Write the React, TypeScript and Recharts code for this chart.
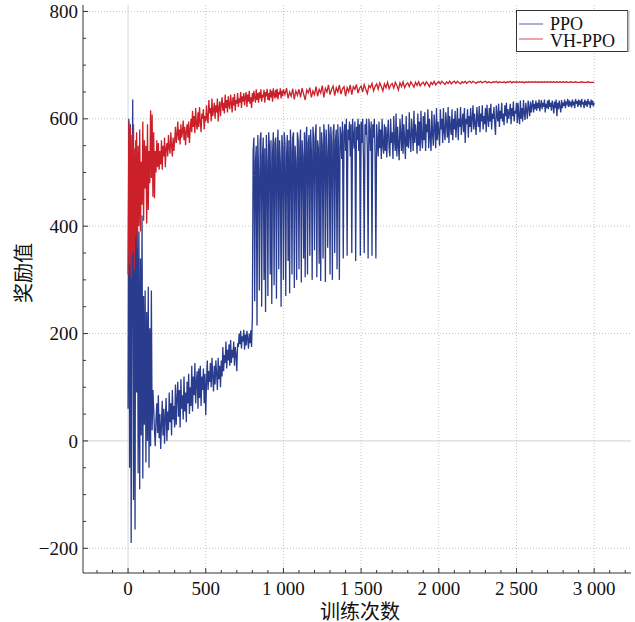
import { LineChart, Line, XAxis, YAxis, ReferenceLine } from 'recharts';

// episode values, grouped in segments (from, step, values)
const ppoStart = [60, 600, -50, 590, -190, 280, 636, -110, 420, -165, 560, 90, 430, -60, 390, -90, 340, 10, 420, -70, 270, 30, 280, -40, 240, 0, 287, -50, 210, -10, 280, 20];
const ppoClimb = [
  95, 60, 20, -10, 40, 70, 15, 85, 5, 50,
  -15, 30, 75, 10, 60, -5, 45, 80, 0, 55,
  20, 90, 35, 70, 10, 95, 40, 65, 25, 105,
  30, 80, 110, 45, 95, 25, 115, 60, 85, 40,
  120, 55, 90, 35, 110, 70, 125, 50, 100, 65,
  140, 55, 120, 85, 145, 70, 110, 130, 60, 135,
  80, 140, 65, 120, 95, 135, 70, 125, 48, 110,
  150, 95, 130, 110, 145, 100, 155, 120, 92, 140,
  105, 150, 125, 95, 155, 115, 140, 100, 150, 120,
  175, 130, 160, 145, 185, 135, 170, 150, 180, 140,
  188, 145, 170, 155, 185, 140, 175, 160, 130, 182,
  175, 200, 180, 205, 172, 195, 185, 207, 170, 198,
  178, 205, 190, 172, 200, 182, 206, 175,
];
const ppoBurst = [
  230, 540, 565, 260, 520, 550, 215, 570, 500, 280,
  560, 575, 250, 530, 565, 300, 545, 240, 570, 520,
  270, 575, 550, 310, 560, 255, 535, 575, 290, 555,
  565, 265, 540, 580, 320, 560, 520, 250, 570, 545,
  300, 575, 555, 270, 530, 570, 335, 560, 275, 580,
  540, 310, 565, 575, 285, 550, 520, 300, 575, 560,
  320, 545, 580, 295, 560, 530, 340, 575, 305, 565,
  585, 310, 555, 570, 345, 580, 540, 300, 585, 560,
  355, 570, 590, 305, 560, 545, 330, 585, 298, 575,
  550, 340, 590, 565, 296, 580, 535, 360, 590, 570,
  310, 585, 555, 300, 575, 590, 350, 560, 580, 320,
  590, 545, 300, 585, 570, 525, 595, 340, 575, 590,
  540, 600, 345, 580, 560, 595, 530, 590, 350, 600,
  570, 545, 595, 335, 585, 560, 600, 540, 590, 345,
  595, 555, 600, 530, 350, 590, 570, 600, 545, 340,
  600, 580, 540, 595, 345, 590, 565, 600, 530, 340,
  590,
];
const ppoLate = [
  560, 530, 595, 545, 580, 525, 600, 550, 535, 590,
  540, 585, 528, 570, 598, 545, 530, 600, 555, 575,
  525, 605, 560, 540, 610, 530, 585, 550, 523, 600,
  570, 540, 608, 535, 590, 560, 525, 605, 548, 580,
  545, 612, 565, 538, 600, 575, 540, 615, 555, 590,
  570, 535, 610, 550, 595, 540, 615, 565, 545, 605,
  560, 612, 540, 590, 575, 618, 545, 600, 565, 540,
  615, 570, 550, 608, 585, 545, 620, 560, 595, 575,
  550, 618, 580, 600, 555, 620, 575, 560, 612, 590,
  565, 622, 555, 605, 585, 570, 618, 560, 600, 580,
  615, 565, 590, 620, 560, 600, 585, 622, 570, 595,
  610, 575, 620, 555, 600, 590, 618, 565, 605, 585,
  620, 575, 600, 625, 580, 610, 590, 570, 622, 600,
  585, 624, 575, 610, 595, 625, 580, 605, 590, 620,
  575, 626, 600, 585, 620, 595, 628, 580, 610, 600,
  622, 590, 570, 625, 605, 595, 628, 585, 615, 600,
  630, 595, 610, 588, 625, 605, 630, 592, 618, 600,
  612, 628, 590, 620, 605, 632, 595, 615, 610, 630,
  592, 630, 605, 590, 634, 600, 620, 595, 635, 610,
  598, 630, 615, 600, 634, 620, 605, 632, 612, 625,
  635, 612, 628, 618, 634, 615, 630, 620, 636, 614,
  625, 635, 618, 630, 622, 636, 612, 628, 620, 634,
  618, 636, 622, 630, 615, 634, 625, 610, 632, 620,
  636, 605, 630, 618, 634, 622, 612, 635, 620, 630,
  624, 636, 620, 632, 628, 637, 622, 634, 626, 630,
  621, 636, 625, 632, 620, 637, 628, 633, 622, 636,
  626, 634, 621, 637, 627, 631, 620, 636, 625, 633,
  622, 637, 627, 632, 620, 636, 626, 634, 623, 630,
];

const vhStart = [310, 595, 330, 585, 305, 570, 350, 590, 320, 545, 380, 575, 360, 550, 400, 580, 390, 520, 440, 595, 410, 560, 470, 550, 405, 590, 430, 540, 480, 616, 490, 608, 455, 575, 452, 540, 500, 560, 510, 555, 505];
const vhRise = [
  540, 515, 560, 505, 550, 530, 565, 510, 545, 555,
  530, 570, 545, 535, 575, 550, 530, 565, 540, 560,
  585, 555, 570, 595, 560, 580, 552, 590, 565, 575,
  597, 560, 585, 551, 575, 590, 565, 595, 555, 580,
  600, 575, 615, 585, 605, 573, 620, 590, 580, 612,
  585, 622, 595, 575, 610, 600, 618, 580, 605, 595,
  625, 600, 592, 635, 610, 620, 595, 638, 605, 615,
  630, 600, 625, 612, 638, 595, 620, 632, 605, 628,
  640, 615, 630, 610, 645, 620, 635, 612, 642, 625,
  618, 645, 630, 612, 640, 625, 646, 615, 635, 628,
  648, 622, 638, 630, 650, 620, 642, 632, 648, 625,
  640, 650, 622, 645, 632, 652, 628, 640, 620, 648,
  632, 652, 640, 630, 655, 635, 648, 630, 650, 638,
  655, 632, 645, 640, 654, 630, 650, 642, 656, 635,
  648, 634, 655, 640, 652, 632, 657, 645, 638, 654,
  640, 656, 636, 650, 645, 657, 638, 652, 642, 655,
];
const vhLate = [
  645, 657, 638, 650, 642, 656, 636, 652, 644, 655,
  640, 657, 646, 635, 654, 648, 658, 640, 652, 645,
  660, 642, 655, 648, 662, 640, 657, 650, 663, 645,
  655, 661, 643, 658, 650, 663, 646, 656, 660, 642,
  658, 650, 663, 645, 660, 655, 664, 648, 657, 661,
  650, 664, 655, 647, 662, 658, 666, 652, 660, 665,
  655, 667, 660, 652, 665, 658, 668, 656, 663, 666,
  657, 668, 662, 654, 667, 660, 669, 658, 664, 667,
  660, 669, 664, 659, 668, 662, 669, 661, 666, 668,
  662, 669, 665, 660, 668, 664, 670, 663, 667, 669,
  665, 670, 667, 664, 669, 666, 670, 665, 668, 670,
  666, 670, 667, 665, 669, 667, 670, 666, 669, 670,
  667, 670, 668, 666, 669, 668, 670, 667, 669, 670,
  667, 669, 668, 667, 669, 668, 670, 667, 669, 668,
  668, 669, 667, 669, 668, 670, 667, 669, 668, 669,
  668, 669, 668, 669, 667, 669, 668, 669, 668, 669,
  668, 669, 668, 669, 668, 669, 668, 669, 668, 669,
  668, 669, 668, 669, 668, 669, 668, 669, 668, 669,
  668, 669, 668, 668, 669, 668, 668, 669, 668, 668,
  668, 669, 668, 668, 668, 669, 668, 668, 668, 668,
];

const xMajor = [0, 500, 1000, 1500, 2000, 2500, 3000];
const xMinor = [-200, -100, 100, 200, 300, 400, 600, 700, 800, 900, 1100, 1200, 1300, 1400, 1600, 1700, 1800, 1900, 2100, 2200, 2300, 2400, 2600, 2700, 2800, 2900, 3100, 3200];
const yMajor = [-200, 0, 200, 400, 600, 800];
const yMinor = [-150, -100, -50, 50, 100, 150, 250, 300, 350, 450, 500, 550, 650, 700, 750];

type Seg = { from: number; step: number; values: number[] };
const toPoints = (segs: Seg[]) =>
  segs.flatMap((s) => s.values.map((v, i) => ({ ep: s.from + i * s.step, v })));

const ppoData = toPoints([
  { from: 0, step: 5, values: ppoStart },
  { from: 160, step: 5, values: ppoClimb },
  { from: 800, step: 5, values: ppoBurst },
  { from: 1605, step: 5, values: ppoLate },
]);
const vhData = toPoints([
  { from: 0, step: 5, values: vhStart },
  { from: 205, step: 5, values: vhRise },
  { from: 1010, step: 10, values: vhLate },
]);

const SERIF = "'Liberation Serif', 'Times New Roman', 'Noto Sans CJK SC', serif";
const BLUE = '#2a3c8e';
const RED = '#cb2029';
const AXIS = '#333';

const fmt = (v: number) => {
  const s = String(Math.abs(v)).replace(/\B(?=(\d{3})+(?!\d))/g, ' ');
  return v < 0 ? '\u2212' + s : s;
};

const XTick = (props: any) => {
  const { x, y, payload } = props;
  const major = xMajor.includes(payload.value);
  return (
    <g>
      <line x1={x} x2={x} y1={y} y2={y - (major ? 5 : 3)} stroke={AXIS} />
      {major && (
        <text x={x} y={y + 9} dy="0.71em" textAnchor="middle" fontFamily={SERIF} fontSize={19} fill="#111">
          {fmt(payload.value)}
        </text>
      )}
    </g>
  );
};

const YTick = (props: any) => {
  const { x, y, payload } = props;
  const major = yMajor.includes(payload.value);
  return (
    <g>
      <line x1={x} x2={x + (major ? 5 : 3)} y1={y} y2={y} stroke={AXIS} />
      {major && (
        <text x={x - 5} y={y} dy="0.35em" textAnchor="end" fontFamily={SERIF} fontSize={19} fill="#111">
          {fmt(payload.value)}
        </text>
      )}
    </g>
  );
};

export default function App() {
  return (
    <div style={{ position: 'absolute', left: 0, top: 0, width: 635, height: 622, background: '#fff' }}>
      <LineChart width={635} height={622} margin={{ top: 5, right: 4, bottom: 0, left: 0 }}>
        <XAxis
          dataKey="ep"
          type="number"
          domain={[-290, 3237]}
          allowDataOverflow
          ticks={[...xMajor, ...xMinor].sort((a, b) => a - b)}
          interval={0}
          height={49}
          tickSize={0}
          tickMargin={0}
          tickLine={false}
          tick={<XTick />}
          axisLine={{ stroke: AXIS }}
        />
        <YAxis
          type="number"
          domain={[-246, 812]}
          allowDataOverflow
          ticks={[...yMajor, ...yMinor].sort((a, b) => a - b)}
          interval={0}
          width={83}
          tickSize={0}
          tickMargin={0}
          tickLine={false}
          tick={<YTick />}
          axisLine={{ stroke: AXIS }}
        />
        {xMajor.filter((v) => v !== 0).map((v) => (
          <ReferenceLine key={'gx' + v} x={v} stroke="#c4c4c4" strokeDasharray="1 2" />
        ))}
        {yMajor.filter((v) => v !== 0).map((v) => (
          <ReferenceLine key={'gy' + v} y={v} stroke="#c4c4c4" strokeDasharray="1 2" />
        ))}
        <ReferenceLine x={0} stroke="#d6d6d6" />
        <ReferenceLine y={0} stroke="#d0d0d0" />
        <Line data={ppoData} dataKey="v" type="linear" stroke={BLUE} strokeWidth={1.3} dot={false} isAnimationActive={false} />
        <Line data={vhData} dataKey="v" type="linear" stroke={RED} strokeWidth={1.3} dot={false} isAnimationActive={false} />
      </LineChart>
      <div
        style={{
          position: 'absolute', left: 360, top: 610, transform: 'translate(-50%, -50%)',
          fontFamily: SERIF, fontSize: 20, whiteSpace: 'nowrap', color: '#111',
        }}
      >
        训练次数
      </div>
      <div
        style={{
          position: 'absolute', left: 22, top: 273, transform: 'translate(-50%, -50%) rotate(-90deg)',
          fontFamily: SERIF, fontSize: 20, whiteSpace: 'nowrap', color: '#111',
        }}
      >
        奖励值
      </div>
      <svg style={{ position: 'absolute', left: 515, top: 9 }} width={116} height={46}>
        <rect x={1.5} y={1.5} width={111} height={41} fill="#fff" stroke={AXIS} />
        <line x1={113.5} x2={113.5} y1={2} y2={43} stroke="#bbb" strokeWidth={2} />
        <line x1={4} x2={28} y1={15} y2={15} stroke={BLUE} strokeWidth={1} opacity={0.8} />
        <line x1={4} x2={28} y1={30} y2={30} stroke={RED} strokeWidth={1} opacity={0.8} />
        <text x={35} y={21} fontFamily={SERIF} fontSize={18} fill="#111">PPO</text>
        <text x={35} y={37.5} fontFamily={SERIF} fontSize={18} fill="#111">VH-PPO</text>
      </svg>
    </div>
  );
}
